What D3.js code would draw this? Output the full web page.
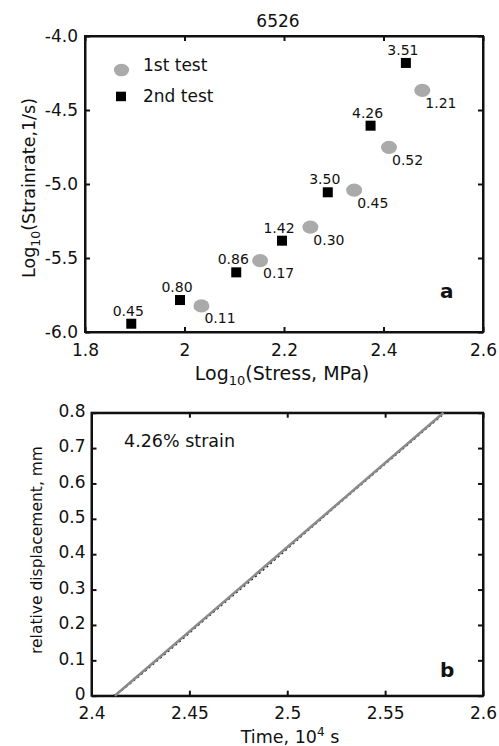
<!DOCTYPE html>
<html>
<head>
<meta charset="utf-8">
<script src="https://cdn.jsdelivr.net/npm/d3@7"></script>
<style>
  body { margin: 0; background: #fff; }
  svg { display: block; font-family: "DejaVu Sans", sans-serif; }
  .axis path, .axis line { stroke: #111; stroke-width: 2; }
  .axis text { fill: #111; font-size: 17px; font-family: "DejaVu Sans", sans-serif; }
  .lbl { fill: #111; }
</style>
</head>
<body>
<svg id="chart" width="499" height="746"></svg>
<script>
// ---- panel a data: log10 stress vs log10 strain rate, labels are % strain
const test1Stress = [2.478, 2.411, 2.341, 2.253, 2.152, 2.034];
const test1Rate   = [-4.367, -4.752, -5.041, -5.291, -5.518, -5.824];
const test1Label  = ['1.21', '0.52', '0.45', '0.30', '0.17', '0.11'];

const test2Stress = [2.445, 2.374, 2.288, 2.196, 2.104, 1.991, 1.893];
const test2Rate   = [-4.182, -4.606, -5.056, -5.383, -5.597, -5.784, -5.944];
const test2Label  = ['3.51', '4.26', '3.50', '1.42', '0.86', '0.80', '0.45'];

const stressTicks = [1.8, 2, 2.2, 2.4, 2.6];
const rateTicks   = [-4.0, -4.5, -5.0, -5.5, -6.0];

// ---- panel b data: displacement record and linear fit
const measTime = [2.4112, 2.415, 2.42, 2.43, 2.44, 2.45, 2.46, 2.47, 2.48, 2.49,
                  2.50, 2.51, 2.52, 2.53, 2.54, 2.55, 2.56, 2.57, 2.58];
const measDisp = [0.000, 0.014, 0.035, 0.082, 0.129, 0.177, 0.225, 0.272, 0.319, 0.366,
                  0.415, 0.464, 0.512, 0.560, 0.607, 0.655, 0.702, 0.750, 0.797];
const fitTime = [2.4119, 2.5798];
const fitDisp = [0, 0.8];

const timeTicks = [2.4, 2.45, 2.5, 2.55, 2.6];
const dispTicks = [0, 0.1, 0.2, 0.3, 0.4, 0.5, 0.6, 0.7, 0.8];

const svg = d3.select('#chart');

// draws the boxed frame with inward ticks on all four sides
function drawFrame(g, x, y, w, h, xTicks, yTicks, xFmt, yFmt, xPad, yPad) {
  g.append('g').attr('class', 'axis')
    .attr('transform', `translate(0,${h})`)
    .call(d3.axisBottom(x).tickValues(xTicks).tickFormat(xFmt)
      .tickSizeInner(-5).tickSizeOuter(0).tickPadding(xPad));
  g.append('g').attr('class', 'axis y-left')
    .call(d3.axisLeft(y).tickValues(yTicks).tickFormat(yFmt)
      .tickSizeInner(-5).tickSizeOuter(0).tickPadding(yPad));
  g.append('g').attr('class', 'axis')
    .call(d3.axisTop(x).tickValues(xTicks).tickFormat('')
      .tickSizeInner(-5).tickSizeOuter(0));
  g.append('g').attr('class', 'axis')
    .attr('transform', `translate(${w},0)`)
    .call(d3.axisRight(y).tickValues(yTicks).tickFormat('')
      .tickSizeInner(-5).tickSizeOuter(0));
  g.append('rect')
    .attr('width', w).attr('height', h)
    .attr('fill', 'none').attr('stroke', '#111').attr('stroke-width', 2);
}

// ================= panel a =================
const a = {left: 85, top: 36, width: 398, height: 296};
const ga = svg.append('g').attr('transform', `translate(${a.left},${a.top})`);

const xA = d3.scaleLinear().domain([1.8, 2.6]).range([0, a.width]);
const yA = d3.scaleLinear().domain([-6, -4]).range([a.height, 0]);

drawFrame(ga, xA, yA, a.width, a.height, stressTicks, rateTicks,
  d => String(d), d => d.toFixed(1), 12, 7);

const pts1 = test1Stress.map((s, i) => ({x: s, y: test1Rate[i], t: test1Label[i]}));
const pts2 = test2Stress.map((s, i) => ({x: s, y: test2Rate[i], t: test2Label[i]}));

ga.selectAll('.p1').data(pts1).join('ellipse')
  .attr('class', 'p1')
  .attr('cx', d => xA(d.x)).attr('cy', d => yA(d.y))
  .attr('rx', 8).attr('ry', 6.6)
  .attr('fill', '#aaaaaa');

ga.selectAll('.p2').data(pts2).join('rect')
  .attr('class', 'p2')
  .attr('x', d => xA(d.x) - 5).attr('y', d => yA(d.y) - 5)
  .attr('width', 10).attr('height', 10)
  .attr('fill', '#000');

ga.selectAll('.l1').data(pts1).join('text')
  .attr('class', 'lbl l1')
  .attr('x', d => xA(d.x) + 3).attr('y', d => yA(d.y) + 17.5)
  .attr('font-size', 14)
  .text(d => d.t);

ga.selectAll('.l2').data(pts2).join('text')
  .attr('class', 'lbl l2')
  .attr('x', d => xA(d.x) - 3).attr('y', d => yA(d.y) - 8)
  .attr('text-anchor', 'middle')
  .attr('font-size', 14)
  .text(d => d.t);

// legend
svg.append('ellipse').attr('cx', 121.5).attr('cy', 70).attr('rx', 7.6).attr('ry', 6.3).attr('fill', '#aaaaaa');
svg.append('rect').attr('x', 116).attr('y', 91.7).attr('width', 10).attr('height', 9.5).attr('fill', '#000');
svg.append('text').attr('class', 'lbl').attr('x', 143).attr('y', 71).attr('font-size', 17).text('1st test');
svg.append('text').attr('class', 'lbl').attr('x', 143).attr('y', 101.5).attr('font-size', 17).text('2nd test');

svg.append('text').attr('class', 'lbl')
  .attr('x', 278).attr('y', 27).attr('text-anchor', 'middle').attr('font-size', 17)
  .text('6526');

svg.append('text').attr('class', 'lbl')
  .attr('x', 440).attr('y', 298).attr('font-size', 20).attr('font-weight', 'bold')
  .text('a');

const xlabA = svg.append('text').attr('class', 'lbl')
  .attr('x', 282).attr('y', 380).attr('text-anchor', 'middle').attr('font-size', 19);
xlabA.append('tspan').text('Log');
xlabA.append('tspan').attr('font-size', 13).attr('dy', 5).text('10');
xlabA.append('tspan').attr('dy', -5).text('(Stress, MPa)');

const ylabA = svg.append('text').attr('class', 'lbl')
  .attr('transform', 'translate(35,188) rotate(-90)')
  .attr('text-anchor', 'middle').attr('font-size', 17.5);
ylabA.append('tspan').text('Log');
ylabA.append('tspan').attr('font-size', 12.5).attr('dy', 5).text('10');
ylabA.append('tspan').attr('dy', -5).text('(Strainrate,1/s)');

// ================= panel b =================
const b = {left: 91.5, top: 412.7, width: 391.5, height: 283};
const gb = svg.append('g').attr('transform', `translate(${b.left},${b.top})`);

const xB = d3.scaleLinear().domain([2.4, 2.6]).range([0, b.width]);
const yB = d3.scaleLinear().domain([0, 0.8]).range([b.height, 0]);

drawFrame(gb, xB, yB, b.width, b.height, timeTicks, dispTicks,
  d => String(d), d => String(d), 11.5, 6);

// nudge the left labels up a little so "0" clears "2.4"
gb.selectAll('.y-left text').attr('dy', '0.22em');

const line = d3.line().x(d => xB(d[0])).y(d => yB(d[1]));

gb.append('path')
  .datum(measTime.map((t, i) => [t, measDisp[i]]))
  .attr('d', line)
  .attr('fill', 'none').attr('stroke', '#111')
  .attr('stroke-width', 1.4).attr('stroke-dasharray', '2,3');

gb.append('path')
  .datum(fitTime.map((t, i) => [t, fitDisp[i]]))
  .attr('d', line)
  .attr('fill', 'none').attr('stroke', '#8a8a8a').attr('stroke-width', 2.6);

svg.append('text').attr('class', 'lbl')
  .attr('x', 124).attr('y', 447).attr('font-size', 17.5)
  .text('4.26% strain');

svg.append('text').attr('class', 'lbl')
  .attr('x', 440).attr('y', 677).attr('font-size', 20).attr('font-weight', 'bold')
  .text('b');

const xlabB = svg.append('text').attr('class', 'lbl')
  .attr('x', 290).attr('y', 743).attr('text-anchor', 'middle').attr('font-size', 17.5);
xlabB.append('tspan').text('Time, 10');
xlabB.append('tspan').attr('font-size', 12).attr('dy', -7).text('4');
xlabB.append('tspan').attr('dy', 7).text(' s');

svg.append('text').attr('class', 'lbl')
  .attr('transform', 'translate(41.5,550) rotate(-90)')
  .attr('text-anchor', 'middle').attr('font-size', 15.5)
  .text('relative displacement, mm');
</script>
</body>
</html>
